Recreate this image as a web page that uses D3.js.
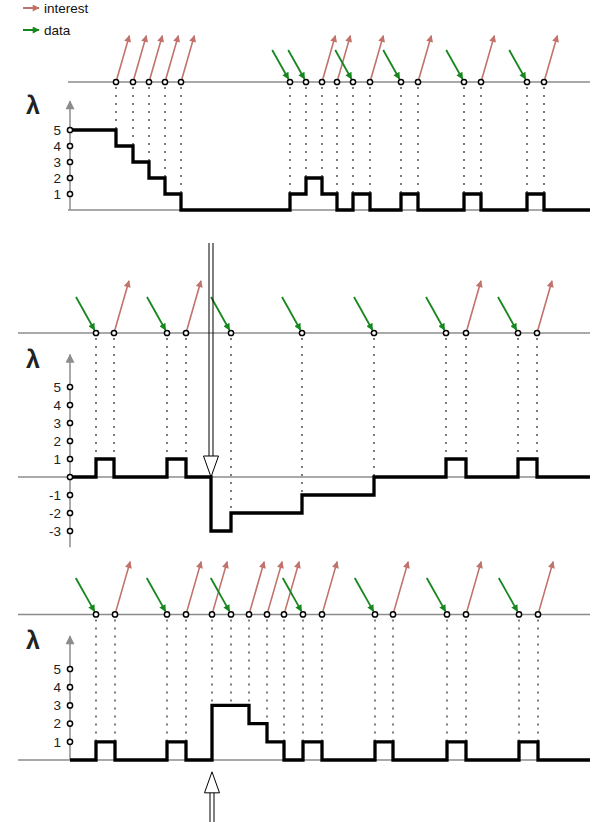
<!DOCTYPE html>
<html>
<head>
<meta charset="utf-8">
<script src="https://cdn.jsdelivr.net/npm/d3@7"></script>
<style>
  body { margin: 0; background: #fff; }
  text { font-family: "Liberation Sans", Arial, sans-serif; }
</style>
</head>
<body>
<div id="chart"></div>
<script>
// times on a shared time axis, 0 = the lambda axis
var p1Interest = [46, 63, 79, 95, 111, 252, 267, 300, 348, 411, 474];
var p1Data = [220, 236, 283, 331, 394, 457];
var p1StepT = [0, 46, 63, 79, 95, 111, 220, 236, 252, 267, 283, 300, 331, 348, 394, 411, 457, 474, 520];
var p1StepV = [5, 4, 3, 2, 1, 0, 1, 2, 1, 0, 1, 0, 1, 0, 1, 0, 1, 0, 0];
var p1Ticks = [1, 2, 3, 4, 5];

var p2Interest = [44, 116, 396, 467];
var p2Data = [26, 97, 161, 232, 304, 376, 448];
var p2StepT = [0, 26, 44, 97, 116, 141, 161, 232, 304, 376, 396, 448, 467, 520];
var p2StepV = [0, 1, 0, 1, 0, -3, -2, -1, 0, 1, 0, 1, 0, 0];
var p2Ticks = [-3, -2, -1, 0, 1, 2, 3, 4, 5];
var p2Drop = 141;

var p3Interest = [45, 116, 142, 179, 197, 214, 252, 323, 396, 468];
var p3Data = [26, 97, 161, 233, 305, 377, 449];
var p3StepT = [0, 26, 45, 97, 116, 142, 179, 197, 214, 233, 252, 305, 323, 377, 396, 449, 468, 520];
var p3StepV = [0, 1, 0, 1, 0, 3, 2, 1, 0, 1, 0, 1, 0, 1, 0, 1, 0, 0];
var p3Ticks = [1, 2, 3, 4, 5];
var p3Rise = 142;

var legendItems = ["interest", "data"];

var red = "#c0726b";
var green = "#17861f";
var grey = "#8c8c8c";

var width = 598;
var height = 822;

var svg = d3.select("#chart")
  .append("svg")
  .attr("width", width)
  .attr("height", height);

var x = d3.scaleLinear()
  .domain([0, 520])
  .range([70, 590]);

/* arrow heads */
var defs = svg.append("defs");
function marker(id, color, w, h) {
  defs.append("marker")
    .attr("id", id)
    .attr("viewBox", "0 0 10 10")
    .attr("refX", 9)
    .attr("refY", 5)
    .attr("markerUnits", "userSpaceOnUse")
    .attr("markerWidth", w)
    .attr("markerHeight", h)
    .attr("orient", "auto")
    .append("path")
    .attr("d", "M0,0 L10,5 L0,10 z")
    .attr("fill", color);
}
marker("head-red", red, 9, 7);
marker("head-green", green, 9, 7);
marker("head-grey", grey, 11, 9);

/* legend */
var legendColors = [red, green];
legendItems.forEach(function (name, i) {
  var ly = 8 + i * 22;
  svg.append("line")
    .attr("x1", 23).attr("y1", ly)
    .attr("x2", 39).attr("y2", ly)
    .attr("stroke", legendColors[i])
    .attr("stroke-width", 2)
    .attr("marker-end", i == 0 ? "url(#head-red)" : "url(#head-green)");
  svg.append("text")
    .attr("x", 44)
    .attr("y", ly + 4.5)
    .attr("font-size", 13.5)
    .attr("fill", "#111")
    .text(name);
});

var panels = [
  { interest: p1Interest, data: p1Data, t: p1StepT, v: p1StepV, ticks: p1Ticks,
    domain: [0, 5], range: [210, 130], lineStart: -2, axisLow: 0 },
  { interest: p2Interest, data: p2Data, t: p2StepT, v: p2StepV, ticks: p2Ticks,
    domain: [-3, 5], range: [531, 387], lineStart: -52, axisLow: -3.9 },
  { interest: p3Interest, data: p3Data, t: p3StepT, v: p3StepV, ticks: p3Ticks,
    domain: [0, 5], range: [760, 669], lineStart: -52, axisLow: 0 }
];

// top of the vertical edge of the step line at time t
function levelAt(p, t) {
  var i = d3.bisectRight(p.t, t) - 1;
  if (p.t[i] == t && i > 0) return Math.max(p.v[i - 1], p.v[i]);
  return p.v[i];
}

panels.forEach(function (p, k) {
  var y = d3.scaleLinear().domain(p.domain).range(p.range);
  var unit = Math.abs(y(1) - y(0));
  var s = unit / 18;
  var g = svg.append("g");
  var eventY = y(8);

  // event line and zero line
  g.append("line")
    .attr("x1", x(p.lineStart)).attr("x2", x(520))
    .attr("y1", eventY).attr("y2", eventY)
    .attr("stroke", grey).attr("stroke-width", 1.5);
  g.append("line")
    .attr("x1", x(p.lineStart)).attr("x2", x(520))
    .attr("y1", y(0)).attr("y2", y(0))
    .attr("stroke", grey).attr("stroke-width", 1.5);

  // dotted drops
  var all = p.interest.concat(p.data);
  g.selectAll(".drop")
    .data(all)
    .enter().append("line")
    .attr("x1", function (d) { return x(d); })
    .attr("x2", function (d) { return x(d); })
    .attr("y1", eventY + 5)
    .attr("y2", function (d) { return y(levelAt(p, d)); })
    .attr("stroke", "#111")
    .attr("stroke-width", 1.1)
    .attr("stroke-dasharray", "2,6");

  // lambda axis
  g.append("line")
    .attr("x1", x(0)).attr("x2", x(0))
    .attr("y1", y(p.axisLow)).attr("y2", y(6.8))
    .attr("stroke", grey).attr("stroke-width", 1.5)
    .attr("marker-end", "url(#head-grey)");

  var ax = g.append("g")
    .attr("transform", "translate(" + x(0) + ",0)")
    .call(d3.axisLeft(y).tickValues(p.ticks).tickSize(0).tickPadding(9)
      .tickFormat(function (d) { return d == 0 ? "" : d; }));
  ax.select(".domain").remove();
  ax.attr("font-size", 13.5);
  ax.selectAll("text").attr("fill", "#222");

  g.append("text")
    .attr("x", 26)
    .attr("y", y(6.8) + 13)
    .attr("font-size", 25)
    .attr("font-weight", "bold")
    .attr("fill", "#222")
    .text("λ");

  // step line
  var pts = p.t.map(function (t, i) { return [t, p.v[i]]; });
  g.append("path")
    .datum(pts)
    .attr("fill", "none")
    .attr("stroke", "#000")
    .attr("stroke-width", 3.3)
    .attr("d", d3.line()
      .x(function (d) { return x(d[0]); })
      .y(function (d) { return y(d[1]); })
      .curve(d3.curveStepAfter));

  // interest arrows (outgoing)
  g.selectAll(".int")
    .data(p.interest)
    .enter().append("line")
    .attr("x1", function (d) { return x(d); })
    .attr("y1", eventY)
    .attr("x2", function (d) { return x(d) + 15 * s; })
    .attr("y2", eventY - 2.9 * unit)
    .attr("stroke", red)
    .attr("stroke-width", 1.6)
    .attr("marker-end", "url(#head-red)");

  // data arrows (incoming)
  g.selectAll(".dat")
    .data(p.data)
    .enter().append("line")
    .attr("x1", function (d) { return x(d) - 20 * s; })
    .attr("y1", eventY - 2 * unit)
    .attr("x2", function (d) { return x(d) - 1.5; })
    .attr("y2", eventY - 3)
    .attr("stroke", green)
    .attr("stroke-width", 1.8)
    .attr("marker-end", "url(#head-green)");

  // tick circles and event circles
  g.selectAll(".tc")
    .data(p.ticks)
    .enter().append("circle")
    .attr("cx", x(0))
    .attr("cy", function (d) { return y(d); })
    .attr("r", 2.6)
    .attr("fill", "#fff").attr("stroke", "#000").attr("stroke-width", 1.5);

  g.selectAll(".ec")
    .data(all)
    .enter().append("circle")
    .attr("cx", function (d) { return x(d); })
    .attr("cy", eventY)
    .attr("r", 2.6)
    .attr("fill", "#fff").attr("stroke", "#000").attr("stroke-width", 1.5);

  p.y = y;
});

/* hollow double arrows */
function bigArrow(cx, tip, dir, tail) {
  var base = tip + dir * 21;
  svg.append("line")
    .attr("x1", cx - 2).attr("x2", cx - 2)
    .attr("y1", base).attr("y2", tail)
    .attr("stroke", "#000").attr("stroke-width", 1);
  svg.append("line")
    .attr("x1", cx + 2).attr("x2", cx + 2)
    .attr("y1", base).attr("y2", tail)
    .attr("stroke", "#000").attr("stroke-width", 1);
  svg.append("path")
    .attr("d", "M" + (cx - 7.5) + "," + base + " L" + cx + "," + tip + " L" + (cx + 7.5) + "," + base + " Z")
    .attr("fill", "#fff").attr("stroke", "#000").attr("stroke-width", 1);
}

var y2 = panels[1].y;
var y3 = panels[2].y;
bigArrow(x(p2Drop), y2(0), -1, y2(13));
bigArrow(x(p3Rise), y3(-0.65), 1, height + 5);
</script>
</body>
</html>
